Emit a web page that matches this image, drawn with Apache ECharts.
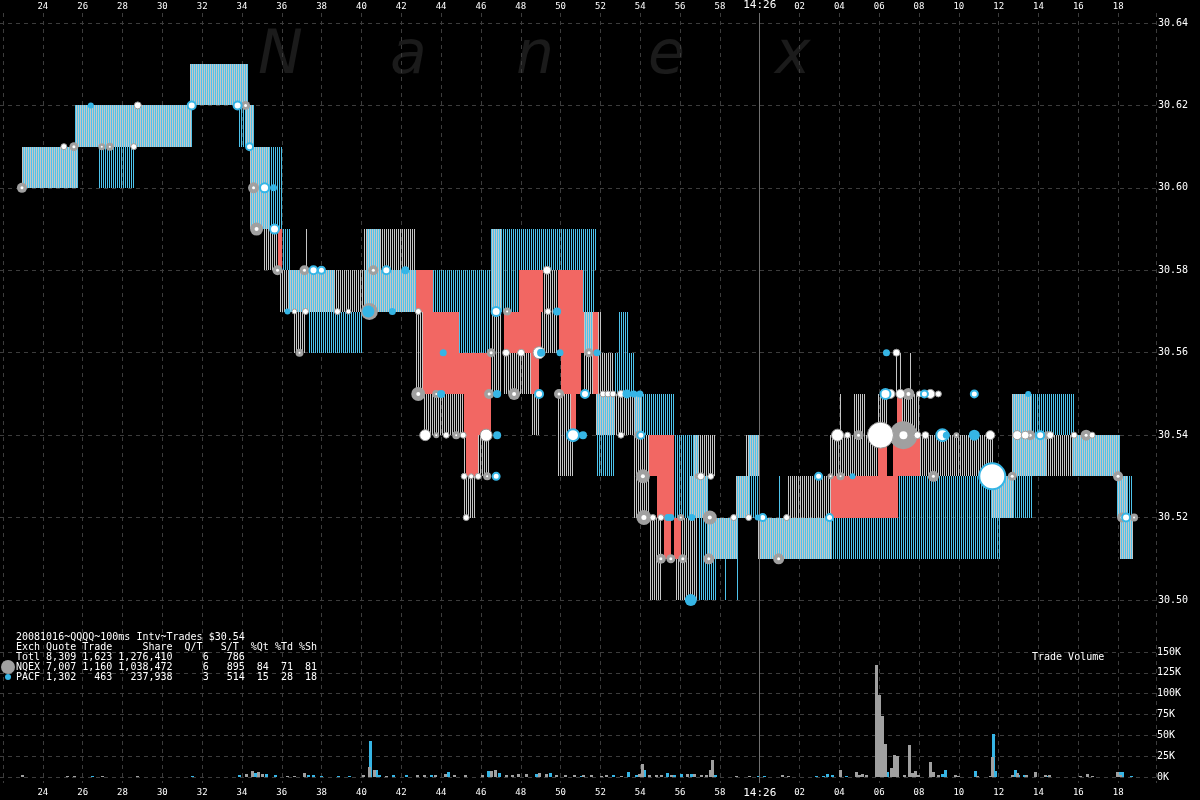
<!DOCTYPE html>
<html>
<head>
<meta charset="utf-8">
<script src="https://cdn.jsdelivr.net/npm/echarts/dist/echarts.min.js"></script>
<style>html,body{margin:0;padding:0;background:#000;}#c{width:1200px;height:800px;}</style>
</head>
<body>
<div id="c"></div>
<script>
// time in seconds after 14:25:00 ; prices in $
const timeMin = 22, timeMax = 79.9, timeStep = 2;
const priceMin = 30.50, priceMax = 30.64, priceStep = 0.02;
const volMax = 150000, volStep = 25000;

// quote spans [t0, t1, bid, ask]
const nqexQuotes = [
  [23.1,25.9,30.60,30.61],[25.75,31.6,30.61,30.62],[31.5,34.4,30.62,30.63],[34.25,34.7,30.61,30.62],
  [34.5,35.45,30.59,30.61],[35.2,35.95,30.58,30.59],[35.95,36.5,30.57,30.58],[36.5,38.75,30.57,30.58],
  [36.75,37.35,30.56,30.57],[37.3,37.4,30.58,30.59],[38.75,40.25,30.57,30.58],[40.25,42.85,30.57,30.59],
  [42.85,43.2,30.55,30.57],[43.2,45.25,30.54,30.55],[45.2,45.45,30.53,30.54],[45.95,46.5,30.53,30.54],
  [45.25,45.85,30.52,30.53],[46.6,47.1,30.55,30.59],[47.2,48.6,30.55,30.56],[48.6,49.0,30.54,30.55],
  [49.1,49.95,30.56,30.58],[49.9,50.7,30.53,30.55],[51.25,52.1,30.55,30.57],[51.85,52.7,30.54,30.56],
  [52.75,54.1,30.54,30.55],[53.75,54.5,30.52,30.54],[54.5,55.1,30.50,30.52],[55.8,56.95,30.50,30.52],
  [56.5,57.45,30.52,30.53],[56.75,57.85,30.53,30.54],[57.45,58.95,30.51,30.52],[58.85,59.5,30.52,30.53],
  [59.35,60.0,30.53,30.54],[59.95,63.6,30.51,30.52],[61.45,63.6,30.52,30.53],[63.5,66.0,30.53,30.54],
  [64.0,64.1,30.54,30.55],[64.75,65.35,30.54,30.55],[65.95,66.45,30.54,30.55],[67.2,68.1,30.54,30.55],
  [66.85,66.95,30.55,30.56],[67.1,67.2,30.55,30.56],[67.6,67.7,30.55,30.56],[68.1,71.75,30.53,30.54],
  [71.7,72.75,30.52,30.53],[72.7,74.45,30.53,30.54],[72.7,73.7,30.54,30.55],[74.45,75.75,30.53,30.54],
  [75.75,78.1,30.53,30.54],[77.95,78.45,30.52,30.53],[78.1,78.75,30.51,30.52]
];
const pacfQuotes = [
  [23.1,25.9,30.60,30.61],[25.75,31.6,30.61,30.62],[31.5,34.4,30.62,30.63],[34.25,34.7,30.61,30.62],
  [34.5,35.45,30.59,30.61],[36.5,38.75,30.57,30.58],[40.25,42.85,30.57,30.58],[56.5,57.45,30.52,30.53],
  [57.45,58.95,30.51,30.52],[58.85,59.5,30.52,30.53],[59.95,72.1,30.51,30.52],[71.7,72.75,30.52,30.53],
  [72.7,74.45,30.53,30.54],[75.75,78.1,30.53,30.54],[77.95,78.75,30.52,30.53],
  [26.95,28.7,30.60,30.61],[31.55,31.65,30.61,30.62],[33.95,34.25,30.61,30.62],[34.7,36.1,30.59,30.61],
  [36.1,36.6,30.58,30.59],[37.5,40.2,30.56,30.57],[40.35,41.1,30.58,30.59],[43.7,45.0,30.57,30.58],
  [45.0,46.6,30.56,30.58],[46.6,48.0,30.57,30.59],[48.0,51.85,30.58,30.59],[51.2,51.75,30.56,30.58],
  [51.85,52.75,30.53,30.55],[52.75,53.75,30.55,30.56],[53.0,53.5,30.56,30.57],[53.75,55.75,30.54,30.55],
  [55.75,56.95,30.52,30.54],[56.95,57.85,30.50,30.52],[58.3,58.4,30.50,30.52],[58.9,59.0,30.50,30.51],
  [59.45,60.0,30.52,30.54],[61.0,61.1,30.52,30.53],[67.0,72.1,30.52,30.53],[72.75,73.7,30.52,30.53],
  [72.7,75.85,30.54,30.55],[78.1,78.75,30.51,30.52]
];
const crossedQuotes = [
  [35.9,36.1,30.58,30.59],[42.85,43.7,30.57,30.58],[43.2,45.0,30.56,30.57],[43.2,46.6,30.55,30.56],
  [45.25,46.6,30.54,30.55],[45.35,45.95,30.53,30.54],[48.0,49.2,30.57,30.58],[47.25,49.1,30.56,30.57],
  [48.6,49.0,30.55,30.56],[49.95,51.2,30.57,30.58],[50.0,51.25,30.56,30.57],[50.1,51.1,30.55,30.56],
  [50.6,50.85,30.54,30.55],[51.7,51.95,30.55,30.57],[54.5,55.75,30.53,30.54],[54.9,55.75,30.52,30.53],
  [55.25,55.6,30.51,30.52],[55.75,56.1,30.51,30.52],[63.6,67.0,30.52,30.53],[66.0,66.45,30.53,30.54],
  [66.75,68.1,30.53,30.54],[66.95,67.2,30.54,30.55]
];

// trades [t, price, markerSize]
const nqexTrades = [
  [23.1,30.60,10],[25.7,30.61,9],[27.1,30.61,7],[27.5,30.61,8],[34.3,30.62,9],[34.7,30.60,11],
  [34.85,30.59,13],[35.9,30.58,10],[37.0,30.56,8],[37.25,30.58,10],[40.5,30.57,17],[40.7,30.58,10],
  [42.95,30.55,14],[43.85,30.55,8],[43.85,30.54,6],[44.85,30.54,8],[46.4,30.53,8],[46.5,30.55,10],
  [46.6,30.56,9],[47.4,30.57,8],[47.75,30.55,12],[50.0,30.55,10],[51.5,30.56,9],[54.0,30.54,9],
  [54.2,30.53,14],[54.25,30.52,15],[55.1,30.51,10],[55.6,30.51,9],[56.2,30.51,9],[56.1,30.52,7],
  [56.95,30.53,6],[57.5,30.51,11],[57.55,30.52,14],[61.0,30.51,11],[63.6,30.53,6],[64.1,30.53,8],
  [65.0,30.54,10],[67.25,30.54,28],[67.5,30.55,12],[68.75,30.53,11],[69.9,30.54,6],[72.7,30.53,9],
  [73.6,30.54,10],[74.45,30.54,8],[76.4,30.54,11],[78.0,30.53,10],[78.2,30.52,10],[78.8,30.52,8]
];
const pacfTrades = [
  [26.55,30.62,6],[35.7,30.60,7],[36.4,30.57,6],[40.45,30.57,12],[41.65,30.57,7],[42.3,30.58,8],
  [44.1,30.55,8],[44.2,30.56,7],[46.9,30.55,8],[46.9,30.54,8],[49.1,30.56,8],[49.9,30.57,8],
  [50.05,30.56,7],[51.2,30.54,8],[51.9,30.56,7],[53.4,30.55,9],[53.75,30.55,7],[54.05,30.55,7],
  [55.45,30.52,7],[55.6,30.52,7],[56.6,30.50,12],[56.65,30.52,7],[59.95,30.52,6],[64.7,30.53,6],
  [66.4,30.56,7],[69.4,30.54,7],[70.8,30.54,11],[73.5,30.55,6]
];
const pacfRingTrades = [
  [31.6,30.62,8],[33.9,30.62,8],[34.5,30.61,7],[35.25,30.60,9],[35.75,30.59,9],[37.7,30.58,8],
  [38.1,30.58,7],[41.35,30.58,8],[46.85,30.57,9],[46.85,30.53,7],[49.0,30.55,8],[50.7,30.54,12],
  [51.3,30.55,8],[54.1,30.54,7],[60.2,30.52,7],[63.0,30.53,7],[63.55,30.52,7],[66.35,30.55,10],
  [68.3,30.55,7],[69.2,30.54,12],[70.8,30.55,7],[71.7,30.53,26],[74.1,30.54,8],[78.4,30.52,8]
];
const whiteTrades = [
  [25.2,30.61,6],[28.7,30.61,6],[28.9,30.62,7],[36.75,30.57,5],[37.3,30.57,6],[38.9,30.57,6],
  [39.45,30.57,5],[42.95,30.57,6],[43.3,30.54,11],[44.35,30.54,6],[45.2,30.54,6],[45.25,30.53,6],
  [45.6,30.53,5],[45.95,30.53,6],[45.35,30.52,6],[46.35,30.54,12],[47.35,30.56,7],[48.1,30.56,7],
  [49.0,30.56,12],[49.4,30.58,8],[49.45,30.57,6],[52.2,30.55,6],[52.45,30.55,6],[52.7,30.55,6],
  [53.1,30.55,7],[53.1,30.54,6],[54.7,30.52,6],[55.1,30.52,6],[57.1,30.53,7],[57.6,30.53,6],
  [58.75,30.52,6],[59.5,30.52,6],[61.4,30.52,6],[63.95,30.54,12],[64.45,30.54,6],[66.1,30.54,26],
  [66.6,30.55,9],[66.9,30.56,7],[67.1,30.55,9],[67.95,30.54,7],[68.05,30.55,6],[68.35,30.54,7],
  [68.6,30.55,9],[69.0,30.55,6],[71.6,30.54,9],[72.95,30.54,9],[73.35,30.54,8],[74.6,30.54,7],
  [75.8,30.54,6],[76.7,30.54,6]
];

// trade volume [t, shares]
const nqexVolume = [
  [23.1,2000],[25.35,1000],[25.7,1000],[27.1,1500],[28.85,1000],[34.3,4000],[34.6,7000],[34.9,6500],
  [35.1,4000],[36.35,1000],[36.75,1000],[37.25,5000],[40.2,2000],[40.5,12000],[40.75,9000],[41.35,1500],
  [42.9,3000],[43.25,2500],[43.8,3000],[44.3,4000],[44.75,3000],[45.3,2500],[46.15,2000],[46.6,7000],
  [46.8,8000],[47.35,3000],[47.65,3000],[47.95,4000],[48.35,3500],[49.0,5000],[49.35,4000],[49.85,3000],
  [50.3,3000],[50.75,2500],[51.2,2000],[51.6,3000],[52.1,1000],[52.35,2500],[53.1,1000],[54.0,4000],
  [54.15,16000],[54.5,3000],[54.85,2000],[55.1,3000],[55.6,2000],[56.4,4000],[56.75,4000],[57.1,2000],
  [57.35,2000],[57.55,8000],[57.65,20000],[58.85,800],[59.5,800],[61.15,2500],[61.45,800],[64.05,9000],
  [64.85,6000],[65.0,3000],[65.15,4000],[65.35,3000],[65.9,135000],[66.05,98000],[66.2,73000],[66.35,40000],
  [66.65,11000],[66.8,26000],[66.95,25000],[67.3,2000],[67.55,38000],[67.7,5000],[67.85,7000],[68.0,2500],
  [68.6,18000],[68.75,6000],[69.0,2000],[69.85,2000],[70.0,1000],[70.95,1000],[71.6,1000],[71.7,24000],
  [72.7,2000],[72.95,5000],[73.4,3000],[73.85,6000],[74.35,2000],[74.55,2000],[76.1,1000],[76.45,4000],
  [76.7,800],[77.95,6000],[78.1,3000]
];
const pacfVolume = [
  [26.6,1000],[31.6,1000],[33.95,2000],[34.75,5000],[35.3,3500],[35.75,3000],[37.45,2000],[37.7,3000],
  [38.1,1000],[38.95,800],[39.5,800],[40.55,43000],[40.85,9000],[41.0,3000],[41.7,3000],[42.35,2000],
  [43.6,2000],[44.45,6000],[46.45,7000],[47.0,5000],[48.85,4000],[49.55,5000],[51.1,1000],[52.7,2000],
  [53.45,6000],[53.85,2000],[54.25,9000],[55.4,5000],[55.75,3000],[56.1,4000],[56.6,3500],[57.8,3000],
  [59.95,1000],[60.25,1500],[62.85,800],[63.2,800],[63.4,4000],[63.65,3000],[64.35,800],[66.45,6000],
  [69.2,4000],[69.35,9000],[70.85,7000],[71.75,52000],[71.85,7000],[72.85,8000],[73.0,2000],[73.3,2000],
  [74.45,800],[78.1,6000],[78.2,6000],[78.65,800]
];

const summaryLines = [
  '20081016~QQQQ~100ms Intv~Trades $30.54',
  'Exch Quote Trade     Share  Q/T   S/T  %Qt %Td %Sh',
  'Totl 8,309 1,623 1,276,410     6   786',
  'NQEX 7,007 1,160 1,038,472     6   895  84  71  81',
  'PACF 1,302   463   237,938     3   514  15  28  18'
];
const watermark = ['N','a','n','e','x'];

// ---------- styling ----------
const GRAY = '#c6c6c6', BLUE = '#4ec3ec', RED = '#f26763';
const TRADE_GRAY = '#a0a0a0', TRADE_BLUE = '#36b5e5';
const MONO = '"DejaVu Sans Mono", monospace';
const GRIDLINE = {color:'#3c3c3c', width:1, type:[4,4]};

// one 1-px line every 2 px; NQEX on even pixels, PACF on odd pixels
function stripeRender(color, parity){
  return function(params, api){
    const a = api.coord([api.value(0), api.value(3)]);
    const b = api.coord([api.value(1), api.value(2)]);
    const x0 = Math.round(a[0]), x1 = Math.max(Math.round(b[0]), Math.round(a[0]) + 1);
    const y0 = Math.round(a[1]), y1 = Math.round(b[1]);
    const children = [];
    let start = x0 + (((parity - x0) % 2) + 2) % 2;
    if (start >= x1) start = x0;
    for (let x = start; x < x1; x += 2) {
      children.push({type:'rect', shape:{x:x, y:y0, width:1, height:y1-y0}, style:{fill:color}});
    }
    return {type:'group', children:children};
  };
}
function solidRender(color){
  return function(params, api){
    const a = api.coord([api.value(0), api.value(3)]);
    const b = api.coord([api.value(1), api.value(2)]);
    const x0 = Math.round(a[0]), x1 = Math.round(b[0]);
    const y0 = Math.round(a[1]), y1 = Math.round(b[1]);
    return {type:'rect', shape:{x:x0, y:y0, width:Math.max(1,x1-x0), height:y1-y0}, style:{fill:color}};
  };
}
function volRender(color){
  return function(params, api){
    const top = api.coord([api.value(0), api.value(1)]);
    const base = api.coord([api.value(0), 0]);
    const x = Math.round(top[0]) - 1;
    return {type:'rect', shape:{x:x, y:Math.round(top[1]), width:3, height:Math.round(base[1])-Math.round(top[1])}, style:{fill:color}};
  };
}
function timeLabel(v){
  const s = Math.round(v);
  if (s < 23 || s > 79) return '';
  if (s === 60) return '{big|14:26}';
  return String(s % 60).padStart(2,'0');
}
const timeLabelStyle = {color:'#fff', fontFamily:MONO, fontSize:9, formatter:timeLabel,
  rich:{big:{color:'#fff', fontFamily:MONO, fontSize:11}}};

const gridLeft = -2, gridWidth = 1158;
const option = {
  backgroundColor:'#000',
  animation:false,
  grid:[
    {left:gridLeft, width:gridWidth, top:12, height:771},
    {left:gridLeft, width:gridWidth, top:23, height:577},
    {left:gridLeft, width:gridWidth, top:652, height:125}
  ],
  xAxis:[
    {gridIndex:0, type:'value', min:timeMin, max:timeMax, interval:timeStep, position:'top',
     axisLine:{show:false}, axisTick:{show:false}, axisLabel:Object.assign({margin:2}, timeLabelStyle),
     splitLine:{show:true, lineStyle:GRIDLINE}},
    {gridIndex:0, type:'value', min:timeMin, max:timeMax, interval:timeStep, position:'bottom',
     axisLine:{show:false}, axisTick:{show:false}, axisLabel:Object.assign({margin:5}, timeLabelStyle),
     splitLine:{show:false}},
    {gridIndex:1, type:'value', min:timeMin, max:timeMax, show:false},
    {gridIndex:2, type:'value', min:timeMin, max:timeMax, show:false}
  ],
  yAxis:[
    {gridIndex:0, type:'value', min:0, max:1, show:false},
    {gridIndex:1, type:'value', min:priceMin, max:priceMax, interval:priceStep, position:'right',
     axisLine:{show:false}, axisTick:{show:false},
     axisLabel:{color:'#fff', fontFamily:MONO, fontSize:10, margin:2, formatter:v=>v.toFixed(2)},
     splitLine:{show:true, lineStyle:GRIDLINE}},
    {gridIndex:2, type:'value', min:0, max:volMax, interval:volStep, position:'right',
     axisLine:{show:false}, axisTick:{show:false},
     axisLabel:{color:'#fff', fontFamily:MONO, fontSize:10, margin:1, formatter:v=>Math.round(v/1000)+'K'},
     splitLine:{show:true, lineStyle:GRIDLINE}}
  ],
  series:[
    {type:'line', xAxisIndex:0, yAxisIndex:0, data:[], silent:true,
     markLine:{silent:true, symbol:['none','none'], label:{show:false},
       lineStyle:{color:'#707070', type:'solid', width:1}, data:[{xAxis:60}]}},
    {type:'custom', name:'NQEX quote', xAxisIndex:2, yAxisIndex:1, data:nqexQuotes, z:2,
     renderItem:stripeRender(GRAY, 0)},
    {type:'custom', name:'PACF quote', xAxisIndex:2, yAxisIndex:1, data:pacfQuotes, z:2,
     renderItem:stripeRender(BLUE, 1)},
    {type:'custom', name:'Crossed', xAxisIndex:2, yAxisIndex:1, data:crossedQuotes, z:3,
     renderItem:solidRender(RED)},
    {type:'scatter', name:'NQEX', xAxisIndex:2, yAxisIndex:1, data:nqexTrades, z:4,
     symbolSize:d=>d[2], itemStyle:{color:TRADE_GRAY, opacity:1}},
    {type:'scatter', name:'NQEX core', xAxisIndex:2, yAxisIndex:1, data:nqexTrades, z:4, silent:true,
     symbolSize:d=>Math.max(2, Math.round(d[2]*0.3)), itemStyle:{color:'#fff', opacity:1}},
    {type:'scatter', name:'white', xAxisIndex:2, yAxisIndex:1, data:whiteTrades, z:5,
     symbolSize:d=>d[2], itemStyle:{color:'#fff', borderColor:'#9a9a9a', borderWidth:1, opacity:1}},
    {type:'scatter', name:'PACF ring', xAxisIndex:2, yAxisIndex:1, data:pacfRingTrades, z:6,
     symbolSize:d=>d[2], itemStyle:{color:'#fff', borderColor:TRADE_BLUE, borderWidth:2, opacity:1}},
    {type:'scatter', name:'PACF', xAxisIndex:2, yAxisIndex:1, data:pacfTrades, z:7,
     symbolSize:d=>d[2], itemStyle:{color:TRADE_BLUE, opacity:1}},
    {type:'custom', name:'PACF vol', xAxisIndex:3, yAxisIndex:2, data:pacfVolume, z:2,
     renderItem:volRender(TRADE_BLUE)},
    {type:'custom', name:'NQEX vol', xAxisIndex:3, yAxisIndex:2, data:nqexVolume, z:3,
     renderItem:volRender(TRADE_GRAY)}
  ],
  graphic:[]
};

const wmX = [258, 390, 516, 648, 775];
watermark.forEach((ch,i)=>{
  option.graphic.push({type:'text', silent:true, z:-1, x:wmX[i], y:87,
    style:{text:ch, fill:'#1b1b1b', font:'italic 60px "DejaVu Sans"', textVerticalAlign:'bottom', verticalAlign:'bottom'}});
});
summaryLines.forEach((ln,i)=>{
  option.graphic.push({type:'text', silent:true, z:10, x:16, y:637 + i*10,
    style:{text:ln, fill:'#fff', font:'10px "DejaVu Sans Mono"', textVerticalAlign:'middle', verticalAlign:'middle'}});
});
option.graphic.push({type:'circle', silent:true, z:10, shape:{cx:8, cy:667, r:7}, style:{fill:TRADE_GRAY}});
option.graphic.push({type:'circle', silent:true, z:10, shape:{cx:8, cy:677, r:3}, style:{fill:TRADE_BLUE}});
option.graphic.push({type:'text', silent:true, z:10, x:1032, y:657,
  style:{text:'Trade Volume', fill:'#fff', font:'10px "DejaVu Sans Mono"', textVerticalAlign:'middle', verticalAlign:'middle'}});

const chart = echarts.init(document.getElementById('c'), null, {renderer:'canvas'});
chart.setOption(option);
</script>
</body>
</html>
